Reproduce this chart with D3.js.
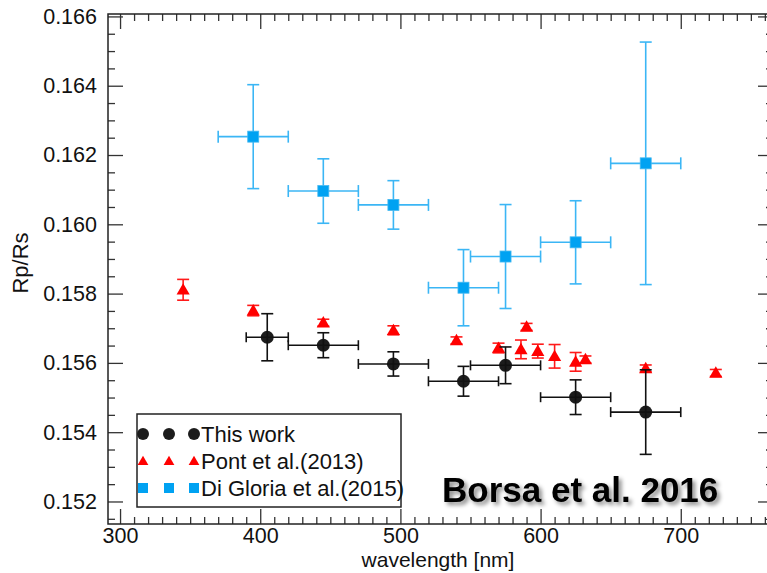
<!DOCTYPE html>
<html>
<head>
<meta charset="utf-8">
<title>Borsa et al. 2016</title>
<style>
  body { margin: 0; background: white; }
  text { font-family: "Liberation Sans", Arial, sans-serif; }
</style>
<script src="https://d3js.org/d3.v7.min.js"></script>
</head>
<body>
<div id="chart"></div>
<script>
// This work
var workWl   = [405, 445, 495, 545, 575, 625, 675];
var workXerr = [15, 25, 25, 25, 25, 25, 25];
var workVal  = [0.15674, 0.15651, 0.15597, 0.15547, 0.15593, 0.15501, 0.15458];
var workErr  = [0.00068, 0.00036, 0.00035, 0.00043, 0.00053, 0.0005, 0.00122];

// Pont et al. (2013)
var pontWl  = [345, 395, 445, 495, 540, 570, 586, 590, 598, 610, 625, 632, 675, 725];
var pontVal = [0.15811, 0.15751, 0.15716, 0.15694, 0.15665, 0.15643, 0.15639, 0.15704, 0.15634, 0.15619, 0.15603, 0.1561, 0.15584, 0.15571];
var pontErr = [0.0003, 0.00015, 0.0001, 0.00013, 0.0001, 0.00014, 0.00027, 0.0001, 0.0002, 0.00034, 0.00027, 0.0001, 0.0001, 0.0001];

// Di Gloria et al. (2015)
var diGlWl   = [395, 445, 495, 545, 575, 625, 675];
var diGlXerr = [25, 25, 25, 25, 25, 25, 25];
var diGlVal  = [0.16253, 0.16096, 0.16056, 0.15817, 0.15907, 0.15948, 0.16176];
var diGlErr  = [0.0015, 0.00093, 0.0007, 0.0011, 0.0015, 0.0012, 0.0035];

var xTicks = [300, 400, 500, 600, 700];
var yTicks = [0.152, 0.154, 0.156, 0.158, 0.160, 0.162, 0.164, 0.166];
var legendLabels = ["This work", "Pont et al.(2013)", "Di Gloria et al.(2015)"];

var W = 767, H = 573;
var mLeft = 108, mTop = 14, mRight = 773, mBottom = 524;

var svg = d3.select("#chart").append("svg")
    .attr("width", W).attr("height", H);

var defs = svg.append("defs");
var shadow = defs.append("filter").attr("id", "shadow")
    .attr("x", "-10%").attr("y", "-20%").attr("width", "130%").attr("height", "160%");
shadow.append("feDropShadow").attr("dx", 3).attr("dy", 3)
    .attr("stdDeviation", 2).attr("flood-color", "#000").attr("flood-opacity", 0.45);
var blur = defs.append("filter").attr("id", "soft");
blur.append("feGaussianBlur").attr("stdDeviation", 0.6);

var x = d3.scaleLinear().domain([291.4, 765.8]).range([mLeft, mRight]);
var y = d3.scaleLinear().domain([0.15135, 0.16607]).range([mBottom, mTop]);

var minorX = d3.range(300, 761, 10).filter(function(d){ return d % 100 !== 0; });
var minorY = d3.range(0, 31).map(function(i){ return +(0.1515 + i * 0.0005).toFixed(4); })
    .filter(function(d){ return d < 0.16607 && Math.round(d * 10000) % 20 !== 0; });

function styleAxis(g) {
  g.select(".domain").remove();
  g.selectAll("line").attr("stroke", "#333").attr("stroke-width", 1.3);
  g.selectAll("text").attr("fill", "#111").style("font-size", "21.5px");
}

// bottom axis
svg.append("g").attr("transform", "translate(0," + mBottom + ")")
  .call(d3.axisBottom(x).tickValues(xTicks).tickSizeInner(-15).tickSizeOuter(0).tickPadding(4).tickFormat(d3.format("d")))
  .call(styleAxis);
svg.append("g").attr("transform", "translate(0," + mBottom + ")")
  .call(d3.axisBottom(x).tickValues(minorX).tickSize(-7).tickFormat(""))
  .call(styleAxis);
// top axis
svg.append("g").attr("transform", "translate(0," + mTop + ")")
  .call(d3.axisTop(x).tickValues(xTicks).tickSize(-15).tickFormat(""))
  .call(styleAxis);
svg.append("g").attr("transform", "translate(0," + mTop + ")")
  .call(d3.axisTop(x).tickValues(minorX).tickSize(-7).tickFormat(""))
  .call(styleAxis);
// left axis
svg.append("g").attr("transform", "translate(" + mLeft + ",0)")
  .call(d3.axisLeft(y).tickValues(yTicks).tickSizeInner(-15).tickSizeOuter(0).tickPadding(11).tickFormat(d3.format(".3f")))
  .call(styleAxis);
svg.append("g").attr("transform", "translate(" + mLeft + ",0)")
  .call(d3.axisLeft(y).tickValues(minorY).tickSize(-7).tickFormat(""))
  .call(styleAxis);
// right axis
svg.append("g").attr("transform", "translate(" + mRight + ",0)")
  .call(d3.axisRight(y).tickValues(yTicks).tickSize(-15).tickFormat(""))
  .call(styleAxis);
svg.append("g").attr("transform", "translate(" + mRight + ",0)")
  .call(d3.axisRight(y).tickValues(minorY).tickSize(-7).tickFormat(""))
  .call(styleAxis);

// frame
svg.append("rect").attr("x", mLeft).attr("y", mTop)
  .attr("width", mRight - mLeft).attr("height", mBottom - mTop)
  .attr("fill", "none").attr("stroke", "#222").attr("stroke-width", 1.5);

// axis titles
svg.append("text").attr("x", 438).attr("y", 567).attr("text-anchor", "middle")
  .style("font-size", "21px").attr("fill", "#111").text("wavelength [nm]");
svg.append("text").attr("transform", "translate(28,263) rotate(-90)")
  .attr("text-anchor", "middle").style("font-size", "22px").attr("fill", "#111").text("Rp/Rs");

// error bars helper
function errBars(g, wl, val, err, xerr, color, capY, capX) {
  var data = wl.map(function(w, i){ return {w: w, v: val[i], e: err[i], xe: xerr ? xerr[i] : 0}; });
  var eb = g.append("g").attr("stroke", color).attr("stroke-width", 1.6).attr("fill", "none");
  data.forEach(function(d){
    var cx = x(d.w), y0 = y(d.v - d.e), y1 = y(d.v + d.e);
    eb.append("line").attr("x1", cx).attr("x2", cx).attr("y1", y0).attr("y2", y1);
    eb.append("line").attr("x1", cx - capY).attr("x2", cx + capY).attr("y1", y0).attr("y2", y0);
    eb.append("line").attr("x1", cx - capY).attr("x2", cx + capY).attr("y1", y1).attr("y2", y1);
    if (d.xe) {
      var x0 = x(d.w - d.xe), x1 = x(d.w + d.xe), cy = y(d.v);
      eb.append("line").attr("x1", x0).attr("x2", x1).attr("y1", cy).attr("y2", cy);
      eb.append("line").attr("x1", x0).attr("x2", x0).attr("y1", cy - capX).attr("y2", cy + capX);
      eb.append("line").attr("x1", x1).attr("x2", x1).attr("y1", cy - capX).attr("y2", cy + capX);
    }
  });
  return data;
}

var plot = svg.append("g");

// Di Gloria (blue squares)
var dgData = errBars(plot, diGlWl, diGlVal, diGlErr, diGlXerr, "#3bb6f5", 6, 6);
plot.append("g").selectAll("rect").data(dgData).enter().append("rect")
  .attr("x", function(d){ return x(d.w) - 5.5; })
  .attr("y", function(d){ return y(d.v) - 5.5; })
  .attr("width", 11).attr("height", 11)
  .attr("fill", "#00a2f2").attr("stroke", "#45b8f0").attr("stroke-width", 0.8);

// Pont (red triangles)
var triangle = d3.symbol().type(d3.symbolTriangle).size(75);
var ptData = errBars(plot, pontWl, pontVal, pontErr, null, "#ff1a1a", 6, 0);
plot.append("g").selectAll("path").data(ptData).enter().append("path")
  .attr("d", triangle)
  .attr("transform", function(d){ return "translate(" + x(d.w) + "," + (y(d.v) + 1) + ")"; })
  .attr("fill", "#ff0000");

// This work (black circles)
var twData = workWl.map(function(w, i){ return {w: w, v: workVal[i]}; });
plot.append("g").selectAll("circle").data(twData).enter().append("circle")
  .attr("cx", function(d){ return x(d.w); })
  .attr("cy", function(d){ return y(d.v); })
  .attr("r", 6.5).attr("fill", "#1e1e1e").attr("filter", "url(#soft)");
errBars(plot, workWl, workVal, workErr, workXerr, "#111", 6, 5);

// legend
var lg = svg.append("g");
lg.append("rect").attr("x", 137).attr("y", 414).attr("width", 264).attr("height", 93)
  .attr("fill", "white").attr("stroke", "#222").attr("stroke-width", 1.5);
var legendX = [143, 169, 194];
var rowY = [434, 461, 488];
legendLabels.forEach(function(lbl, i){
  var row = lg.append("g");
  legendX.forEach(function(mx){
    if (i === 0) {
      row.append("circle").attr("cx", mx).attr("cy", rowY[i]).attr("r", 6)
        .attr("fill", "#1e1e1e").attr("filter", "url(#soft)");
    } else if (i === 1) {
      row.append("path").attr("d", d3.symbol().type(d3.symbolTriangle).size(50))
        .attr("transform", "translate(" + mx + "," + (rowY[i] + 1) + ")").attr("fill", "#ff0000");
    } else {
      row.append("rect").attr("x", mx - 5).attr("y", rowY[i] - 5).attr("width", 10).attr("height", 10)
        .attr("fill", "#00a2f2");
    }
  });
  row.append("text").attr("x", 201).attr("y", rowY[i] + 7.5)
    .style("font-size", "22px").attr("fill", "#111").text(lbl);
});

// annotation
svg.append("text").attr("x", 442).attr("y", 502)
  .style("font-size", "35px").style("font-weight", "bold").attr("fill", "#000")
  .attr("filter", "url(#shadow)").text("Borsa et al. 2016");
</script>
</body>
</html>
